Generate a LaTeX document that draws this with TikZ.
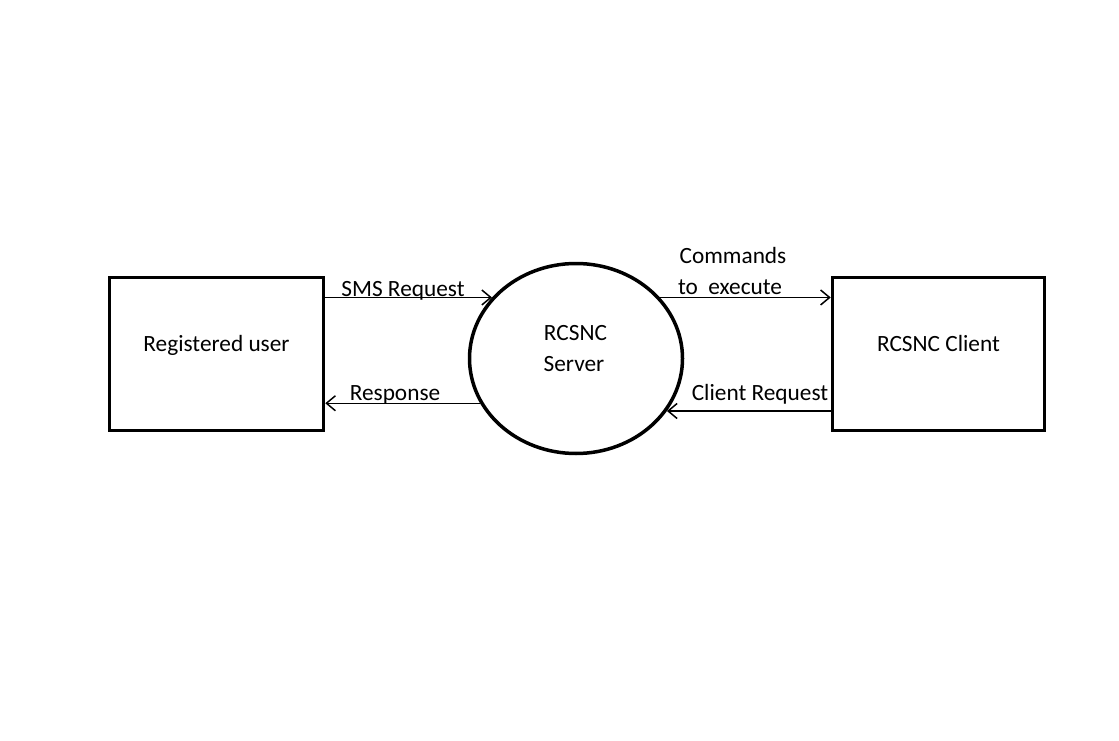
\documentclass[tikz,border=0pt]{standalone}
\usepackage{fontspec}
\setmainfont{Carlito}
\usetikzlibrary{shapes.geometric,arrows.meta}
\begin{document}
\begin{tikzpicture}[x=1pt,y=-1pt,
  every node/.style={font=\fontsize{23.3}{31}\selectfont},
  entity/.style={draw,line width=3.5pt,rectangle,inner sep=0pt,minimum height=153pt},
  process/.style={draw,line width=3.5pt,ellipse,inner sep=0pt,minimum width=213pt,minimum height=190pt,align=center},
  flow/.style={line width=1.5pt,-{Straight Barb[length=9pt,width=15pt,line width=1.5pt]}},
  lbl/.style={anchor=base,inner sep=0pt}]
\useasboundingbox[fill=white] (0,0) rectangle (1119,741);
\node[entity,minimum width=214pt] (user) at (216.5,354) {};
\node[entity,minimum width=212pt] (client) at (938.5,354) {};
\node[process] (srv) at (576,358.5) {};
\node[lbl] (tuser) at (216.5,351) {Registered user};
\node[lbl] (tclient) at (938.5,351) {RCSNC Client};
\node[lbl] (tsrv1) at (575.5,340) {RCSNC};
\node[lbl] (tsrv2) at (574,371) {Server};
% flows
\draw[flow] (srv.144.6 -| user.east) -- (srv.144.6);
\draw[flow] (srv.205.3) -- (srv.205.3 -| user.east);
\draw[flow] (srv.36.9) -- (srv.36.9 -| client.west);
\draw[flow] (srv.330.9 -| client.west) -- (srv.330.9);
\node[lbl] (lsms) at (403,296) {SMS Request};
\node[lbl] (lresp) at (395,400) {Response};
\node[lbl] (lcmd1) at (733,263) {Commands};
\node[lbl] (lcmd2) at (730,294) {to\ \ execute};
\node[lbl] (lcli) at (760,400) {Client Request};
\end{tikzpicture}
\end{document}
